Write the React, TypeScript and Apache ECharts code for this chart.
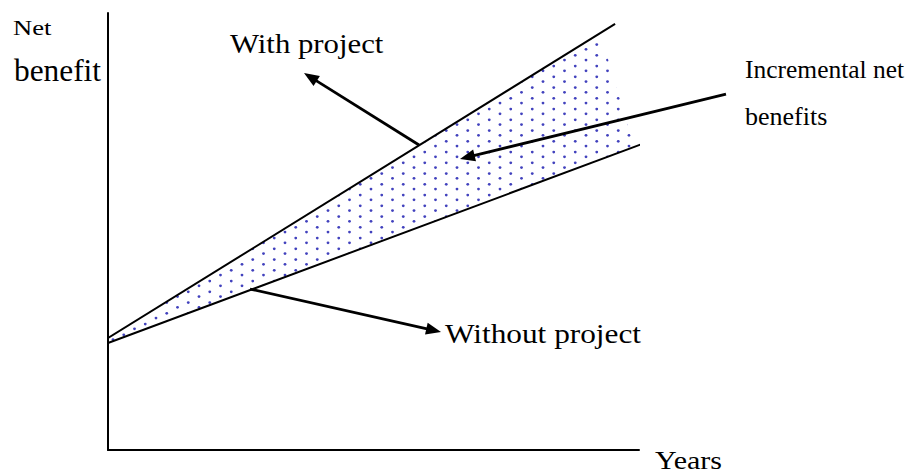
import React, { useEffect, useRef } from "react";
import * as echarts from "echarts";

// ---- data (in chart units: x = years, y = net benefit) ----
const xRange = [0, 100];
const yRange = [0, 100];
const withProject = [
  [-0.56, 25.2],
  [95.5, 97.5],
];
const withoutProject = [
  [-0.56, 24.23],
  [100.56, 70.02],
];
const incrementalArea = [
  [0.4, 25.9],
  [92.7, 95.4],
  [99.1, 69.36],
  [0.4, 24.65],
];
// arrows: [tailX, tailY, headX, headY]
const arrowWithProject = [58.57, 69.79, 36.91, 86.27];
const arrowIncremental = [116.38, 81.46, 66.29, 66.59];
const arrowWithoutProject = [26.74, 36.84, 62.71, 27.0];

// ---- texts ----
const yTitleTop = "Net";
const yTitleBottom = "benefit";
const xTitle = "Years";
const withLabel = "With project";
const withoutLabel = "Without project";
const incrementalTop = "Incremental net";
const incrementalBottom = "benefits";

const FONT = "'Liberation Serif', 'Times New Roman', serif";

function makeDotPattern() {
  const c = document.createElement("canvas");
  c.width = 43;
  c.height = 43;
  const ctx = c.getContext("2d")!;
  ctx.fillStyle = "rgba(55,55,185,0.95)";
  for (let i = 0; i < 4; i++) {
    const x = 5.5 + 10.75 * i;
    const y0 = i % 2 === 0 ? 6.3 : 1.6;
    for (let j = 0; j < 4; j++) {
      ctx.beginPath();
      ctx.arc(x, y0 + 10.75 * j, 1.4, 0, Math.PI * 2);
      ctx.fill();
    }
  }
  return { image: c.toDataURL(), repeat: "repeat", imageWidth: 43, imageHeight: 43 };
}

function textEl(text: string, left: number, baseline: number, fs: number, sx: number) {
  return {
    type: "text",
    x: left,
    y: baseline - 0.3375 * fs,
    scaleX: sx,
    silent: true,
    style: {
      text,
      x: 0,
      y: 0,
      fontSize: fs,
      lineHeight: Math.round(fs * 0.8),
      fontFamily: FONT,
      fill: "#000",
      align: "left",
      verticalAlign: "middle",
    },
  };
}

const renderArrow = (params: any, api: any) => {
  const p1 = api.coord([api.value(0), api.value(1)]);
  const p2 = api.coord([api.value(2), api.value(3)]);
  const dx = p2[0] - p1[0];
  const dy = p2[1] - p1[1];
  const L = Math.hypot(dx, dy);
  const ux = dx / L;
  const uy = dy / L;
  const headLen = 15;
  const headW = 6;
  const bx = p2[0] - ux * headLen;
  const by = p2[1] - uy * headLen;
  return {
    type: "group",
    children: [
      {
        type: "line",
        shape: { x1: p1[0], y1: p1[1], x2: bx + ux * 3, y2: by + uy * 3 },
        style: { stroke: "#000", lineWidth: 2.8 },
      },
      {
        type: "polygon",
        shape: {
          points: [
            [p2[0], p2[1]],
            [bx - uy * headW, by + ux * headW],
            [bx + uy * headW, by - ux * headW],
          ],
        },
        style: { fill: "#000" },
      },
    ],
  };
};

export default function App() {
  const ref = useRef<HTMLDivElement>(null);
  useEffect(() => {
    if (!ref.current) return;
    const chart = echarts.init(ref.current, null, { renderer: "svg" });
    const pattern = makeDotPattern();
    const axisCommon = {
      type: "value",
      axisLine: { show: true, lineStyle: { color: "#000", width: 2 } },
      axisTick: { show: false },
      axisLabel: { show: false },
      splitLine: { show: false },
    };
    chart.setOption({
      animation: false,
      backgroundColor: "#fff",
      grid: { left: 108, top: 13, right: 274, bottom: 25 },
      xAxis: { ...axisCommon, min: xRange[0], max: xRange[1] },
      yAxis: { ...axisCommon, min: yRange[0], max: yRange[1] },
      series: [
        {
          type: "custom",
          name: "Incremental net benefits",
          coordinateSystem: "cartesian2d",
          clip: false,
          silent: true,
          z: 1,
          data: incrementalArea,
          renderItem: (params: any, api: any) => {
            if (params.dataIndex !== 0) return null;
            return {
              type: "polygon",
              shape: { points: incrementalArea.map((p) => api.coord(p)) },
              style: { fill: pattern as any },
            };
          },
        },
        {
          type: "line",
          name: "With project",
          data: withProject,
          symbol: "none",
          clip: false,
          silent: true,
          z: 3,
          lineStyle: { color: "#000", width: 2 },
        },
        {
          type: "line",
          name: "Without project",
          data: withoutProject,
          symbol: "none",
          clip: false,
          silent: true,
          z: 3,
          lineStyle: { color: "#000", width: 2 },
        },
        {
          type: "custom",
          name: "arrows",
          coordinateSystem: "cartesian2d",
          clip: false,
          silent: true,
          z: 4,
          data: [arrowWithProject, arrowIncremental, arrowWithoutProject],
          renderItem: renderArrow,
        },
      ],
      graphic: [
        textEl(yTitleTop, 13, 35, 20, 1.33),
        textEl(yTitleBottom, 14, 81, 32, 0.98),
        textEl(withLabel, 230, 53, 27, 1.14),
        textEl(incrementalTop, 745, 78, 26, 0.98),
        textEl(incrementalBottom, 745, 125, 26, 1.0),
        textEl(withoutLabel, 445, 343, 27, 1.16),
        textEl(xTitle, 655, 469, 26, 1.155),
      ],
    });
    return () => chart.dispose();
  }, []);
  return (
    <div
      ref={ref}
      style={{ position: "fixed", left: 0, top: 0, width: 913, height: 475, background: "#fff" }}
    />
  );
}
